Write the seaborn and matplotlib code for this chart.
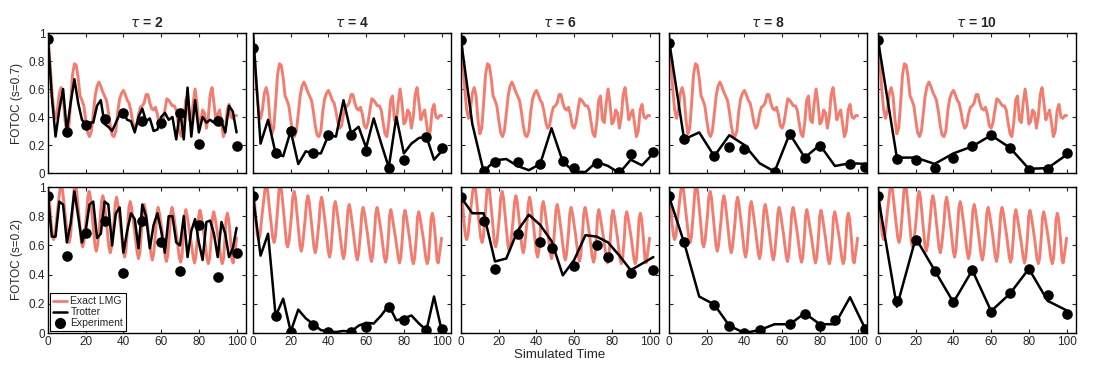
import matplotlib
matplotlib.use("Agg")
import matplotlib.pyplot as plt
import seaborn as sns
from matplotlib.lines import Line2D

sns.set_style("ticks")
plt.rcParams['font.family'] = ['Liberation Sans', 'DejaVu Sans']

# ---------------- data ----------------
taus = [2, 4, 6, 8, 10]
row_labels = ["FOTOC (s=0.7)", "FOTOC (s=0.2)"]
xticks = [0, 20, 40, 60, 80, 100]
yticks = [0, 0.2, 0.4, 0.6, 0.8, 1]
ytick_labels = ["0", "0.2", "0.4", "0.6", "0.8", "1"]

# Exact LMG, s = 0.7
exact07_t = list(range(0, 101))
exact07_y = [1.0, 0.8, 0.6, 0.45, 0.39, 0.45, 0.57, 0.61, 0.55, 0.38,
             0.28, 0.32, 0.5, 0.7, 0.78, 0.77, 0.68, 0.55, 0.52, 0.48,
             0.38, 0.29, 0.26, 0.3, 0.42, 0.55, 0.62, 0.65, 0.62, 0.58,
             0.55, 0.52, 0.44, 0.34, 0.27, 0.26, 0.3, 0.44, 0.53, 0.57,
             0.59, 0.56, 0.52, 0.5, 0.44, 0.36, 0.32, 0.34, 0.42, 0.47,
             0.48, 0.5, 0.56, 0.56, 0.5, 0.46, 0.45, 0.47, 0.42, 0.34,
             0.32, 0.36, 0.45, 0.53, 0.52, 0.5, 0.48, 0.48, 0.45, 0.36,
             0.28, 0.26, 0.36, 0.52, 0.55, 0.38, 0.36, 0.5, 0.6, 0.5,
             0.35, 0.37, 0.45, 0.43, 0.32, 0.4, 0.56, 0.61, 0.5, 0.38,
             0.42, 0.45, 0.36, 0.26, 0.3, 0.45, 0.49, 0.4, 0.39, 0.41, 0.41]

# Exact LMG, s = 0.2
exact02_t = [0, 0.8, 1.6, 2.3, 3, 3.7, 4.9, 6.3, 7, 7.7, 9.0, 10.5, 11.2, 11.9,
             13.0, 13.8, 14.5, 15.2, 16.6, 17.7, 18.4, 19.1,
             20.4, 21.1, 21.8, 22.5, 23.8, 24.9, 25.6, 26.3,
             27.6, 28.4, 29.1, 29.8, 31.2, 32.3, 33, 33.7,
             35.0, 35.7, 36.4, 37.1, 38.6, 39.9, 40.6, 41.3,
             42.3, 42.9, 43.6, 44.3, 45.9, 47.3, 48, 48.7,
             49.7, 50.3, 51, 51.7, 53.3, 54.6, 55.3, 56,
             57.1, 57.7, 58.4, 59.1, 60.8, 62.1, 62.8, 63.5,
             64.5, 65.1, 65.8, 66.5, 68.3, 69.6, 70.3, 71.0,
             71.9, 72.4, 73.1, 73.8, 75.6, 77.0, 77.7, 78.4,
             79.4, 79.9, 80.6, 81.3, 83.0, 84.3, 85, 85.7,
             86.7, 87.2, 87.9, 88.6, 90.4, 91.7, 92.4, 93.1,
             93.9, 94.4, 95.1, 95.8, 96.8, 97.6, 98.2, 99.0, 100]
exact02_y = [1.0, 0.9, 0.76, 0.67, 0.64, 0.67, 0.82, 0.98, 1.02, 0.98, 0.82, 0.65, 0.62, 0.66,
             0.84, 0.98, 1.02, 0.97, 0.78, 0.62, 0.59, 0.63,
             0.8, 0.93, 0.97, 0.93, 0.75, 0.6, 0.56, 0.6,
             0.77, 0.9, 0.94, 0.9, 0.73, 0.59, 0.55, 0.59,
             0.76, 0.89, 0.93, 0.88, 0.72, 0.56, 0.52, 0.56,
             0.74, 0.86, 0.9, 0.86, 0.7, 0.55, 0.51, 0.55,
             0.72, 0.84, 0.88, 0.84, 0.68, 0.54, 0.5, 0.54,
             0.7, 0.82, 0.86, 0.82, 0.67, 0.53, 0.49, 0.53,
             0.7, 0.82, 0.86, 0.82, 0.66, 0.52, 0.485, 0.52,
             0.68, 0.8, 0.845, 0.8, 0.65, 0.52, 0.48, 0.52,
             0.68, 0.8, 0.84, 0.8, 0.65, 0.51, 0.475, 0.51,
             0.67, 0.79, 0.83, 0.79, 0.64, 0.51, 0.475, 0.51,
             0.66, 0.78, 0.82, 0.78, 0.64, 0.5, 0.48, 0.55, 0.65]

# Trotter, s = 0.7
trot07_t2 = list(range(0, 101, 2))
trot07_y2 = [0.96, 0.55, 0.26, 0.45, 0.6, 0.3, 0.5, 0.67, 0.5, 0.38,
             0.35, 0.36, 0.36, 0.48, 0.52, 0.35, 0.33, 0.3, 0.36, 0.42,
             0.43, 0.38, 0.37, 0.29, 0.4, 0.46, 0.37, 0.39, 0.3, 0.31,
             0.4, 0.43, 0.38, 0.4, 0.24, 0.45, 0.24, 0.61, 0.26, 0.52,
             0.29, 0.4, 0.36, 0.38, 0.36, 0.4, 0.37, 0.29, 0.48, 0.44, 0.29]
trot07_t4 = list(range(0, 101, 4))
trot07_y4 = [1.0, 0.21, 0.38, 0.14, 0.12, 0.30, 0.064, 0.155, 0.14, 0.14,
             0.27, 0.26, 0.52, 0.285, 0.33, 0.18, 0.39, 0.21, 0.04, 0.40,
             0.14, 0.21, 0.25, 0.26, 0.095, 0.155]
trot07_t6 = list(range(0, 103, 6))
trot07_y6 = [0.95, 0.35, 0.01, 0.09, 0.1, 0.05, 0.02, 0.065, 0.32, 0.08,
             0.01, 0.007, 0.08, 0.05, 0.0, 0.095, 0.055, 0.14]
trot07_t8 = list(range(0, 105, 8))
trot07_y8 = [0.95, 0.24, 0.29, 0.12, 0.27, 0.2, 0.07, 0.01, 0.28, 0.11,
             0.2, 0.05, 0.07, 0.065]
trot07_t10 = list(range(0, 101, 10))
trot07_y10 = [0.95, 0.11, 0.11, 0.065, 0.14, 0.19, 0.27, 0.18, 0.03, 0.035, 0.13]

# Experiment, s = 0.7
exp07_t2 = [0, 10, 20, 30, 40, 50, 60, 70, 80, 90, 100]
exp07_y2 = [0.96, 0.29, 0.345, 0.385, 0.43, 0.37, 0.36, 0.43, 0.21, 0.375, 0.195]
exp07_t4 = [0, 12, 20, 32, 40, 52, 60, 72, 80, 92, 100]
exp07_y4 = [0.89, 0.14, 0.30, 0.14, 0.27, 0.275, 0.155, 0.036, 0.095, 0.26, 0.18]
exp07_t6 = [0, 12, 18, 30, 42, 54, 60, 72, 84, 90, 102]
exp07_y6 = [0.95, 0.012, 0.08, 0.076, 0.064, 0.083, 0.036, 0.071, 0.007, 0.136, 0.148]
exp07_t8 = [0, 8, 24, 32, 40, 56, 64, 72, 80, 96, 104]
exp07_y8 = [0.93, 0.24, 0.12, 0.185, 0.17, 0.01, 0.28, 0.11, 0.195, 0.067, 0.04]
exp07_t10 = [0, 10, 20, 30, 40, 50, 60, 70, 80, 90, 100]
exp07_y10 = [0.95, 0.10, 0.09, 0.036, 0.107, 0.19, 0.27, 0.18, 0.024, 0.03, 0.14]

# Trotter, s = 0.2
trot02_t2 = list(range(0, 101, 2))
trot02_y2 = [0.94, 0.66, 0.66, 0.9, 0.88, 0.62, 0.75, 0.97, 0.8, 0.62,
             0.7, 0.88, 0.9, 0.65, 0.68, 0.9, 0.88, 0.6, 0.82, 0.86,
             0.55, 0.7, 0.82, 0.78, 0.58, 0.88, 0.8, 0.58, 0.74, 0.82,
             0.7, 0.55, 0.8, 0.8, 0.62, 0.6, 0.8, 0.52, 0.7, 0.78,
             0.62, 0.5, 0.76, 0.77, 0.68, 0.52, 0.76, 0.68, 0.52, 0.58, 0.72]
trot02_t4 = list(range(0, 101, 4))
trot02_y4 = [0.94, 0.53, 0.68, 0.115, 0.235, 0.01, 0.16, 0.1, 0.06, 0.02,
             0.01, 0.007, 0.014, 0.01, 0.05, 0.07, 0.065, 0.12, 0.19, 0.087,
             0.1, 0.12, 0.065, 0.02, 0.25, 0.02]
trot02_t6 = list(range(0, 103, 6))
trot02_y6 = [0.93, 0.82, 0.82, 0.49, 0.51, 0.70, 0.81, 0.74, 0.63, 0.395,
             0.5, 0.67, 0.66, 0.62, 0.53, 0.43, 0.475, 0.52]
trot02_t8 = list(range(0, 105, 8))
trot02_y8 = [0.935, 0.62, 0.25, 0.195, 0.05, 0.0, 0.02, 0.06, 0.06, 0.135,
             0.06, 0.06, 0.245, 0.03]
trot02_t10 = list(range(0, 101, 10))
trot02_y10 = [0.94, 0.18, 0.65, 0.43, 0.21, 0.43, 0.15, 0.27, 0.44, 0.22, 0.155]

# Experiment, s = 0.2
exp02_t2 = [0, 10, 20, 30, 40, 50, 60, 70, 80, 90, 100]
exp02_y2 = [0.94, 0.525, 0.685, 0.77, 0.41, 0.765, 0.62, 0.425, 0.74, 0.385, 0.545]
exp02_t4 = [0, 12, 20, 32, 40, 52, 60, 72, 80, 92, 100]
exp02_y4 = [0.94, 0.115, 0.01, 0.057, 0.01, 0.007, 0.04, 0.18, 0.09, 0.02, 0.03]
exp02_t6 = [0, 12, 18, 30, 42, 48, 60, 72, 78, 90, 102]
exp02_y6 = [0.93, 0.765, 0.44, 0.68, 0.62, 0.58, 0.46, 0.60, 0.52, 0.41, 0.43]
exp02_t8 = [0, 8, 24, 32, 40, 48, 64, 72, 80, 88, 104]
exp02_y8 = [0.935, 0.62, 0.195, 0.05, 0.0, 0.02, 0.06, 0.13, 0.05, 0.09, 0.03]
exp02_t10 = [0, 10, 20, 30, 40, 50, 60, 70, 80, 90, 100]
exp02_y10 = [0.94, 0.22, 0.64, 0.425, 0.21, 0.43, 0.145, 0.275, 0.435, 0.26, 0.13]

# ---------------- assemble ----------------
exact = [(exact07_t, exact07_y), (exact02_t, exact02_y)]
trotter = [
    [(trot07_t2, trot07_y2), (trot07_t4, trot07_y4), (trot07_t6, trot07_y6),
     (trot07_t8, trot07_y8), (trot07_t10, trot07_y10)],
    [(trot02_t2, trot02_y2), (trot02_t4, trot02_y4), (trot02_t6, trot02_y6),
     (trot02_t8, trot02_y8), (trot02_t10, trot02_y10)],
]
experiment = [
    [(exp07_t2, exp07_y2), (exp07_t4, exp07_y4), (exp07_t6, exp07_y6),
     (exp07_t8, exp07_y8), (exp07_t10, exp07_y10)],
    [(exp02_t2, exp02_y2), (exp02_t4, exp02_y4), (exp02_t6, exp02_y6),
     (exp02_t8, exp02_y8), (exp02_t10, exp02_y10)],
]

SALMON = '#F27D6F'
W, H = 1097, 376
fig = plt.figure(figsize=(W / 100, H / 100), dpi=100)

lefts_px = [48, 253, 461, 669, 878]
width_px = 198
rows_px = [(33, 173), (187, 333)]

for r in range(2):
    top_px, bot_px = rows_px[r]
    for c, tau in enumerate(taus):
        ax = fig.add_axes([lefts_px[c] / W, 1 - bot_px / H,
                           width_px / W, (bot_px - top_px) / H])
        et, ey = exact[r]
        sns.lineplot(x=et, y=ey, ax=ax, color=SALMON, linewidth=2.1,
                     estimator=None, sort=False)
        tt, ty = trotter[r][c]
        sns.lineplot(x=tt, y=ty, ax=ax, color='black', linewidth=1.8,
                     estimator=None, sort=False)
        xt, xy = experiment[r][c]
        sns.scatterplot(x=xt, y=xy, ax=ax, color='black', s=58,
                        edgecolor='black', linewidth=0, zorder=4)
        ax.set_xlim(0, 105)
        ax.set_ylim(0, 1)
        ax.set_xticks(xticks)
        ax.set_yticks(yticks)
        ax.tick_params(direction='in', top=True, right=True, length=3,
                       width=0.8, labelsize=8.5, pad=2)
        if r == 0:
            ax.set_xticklabels([])
            ax.set_title(r'$\tau$ = %d' % tau, fontsize=10, fontweight='bold', pad=4)
        else:
            ax.set_xticklabels([str(v) for v in xticks])
        if c == 0:
            ax.set_yticklabels(ytick_labels)
            ax.set_ylabel(row_labels[r], fontsize=8.5, labelpad=4)
        else:
            ax.set_yticklabels([])
            ax.set_ylabel('')
        ax.set_xlabel('')
        for sp in ax.spines.values():
            sp.set_linewidth(1.0)
            sp.set_color('black')
        if r == 1 and c == 0:
            handles = [
                Line2D([], [], color=SALMON, lw=2.0),
                Line2D([], [], color='black', lw=1.8),
                Line2D([], [], color='black', marker='o', linestyle='none',
                       markersize=7),
            ]
            leg = ax.legend(handles, ['Exact LMG', 'Trotter', 'Experiment'],
                            loc='lower left', fontsize=7.5, frameon=True,
                            fancybox=False, edgecolor='black', framealpha=1,
                            handlelength=1.4, handletextpad=0.3,
                            borderpad=0.3, labelspacing=0.1,
                            borderaxespad=0.15)
            leg.get_frame().set_linewidth(0.8)

fig.text(560 / W, 1 - 355 / H, 'Simulated Time', ha='center', va='center',
         fontsize=9.5)

fig.savefig('out.png', dpi=100)
